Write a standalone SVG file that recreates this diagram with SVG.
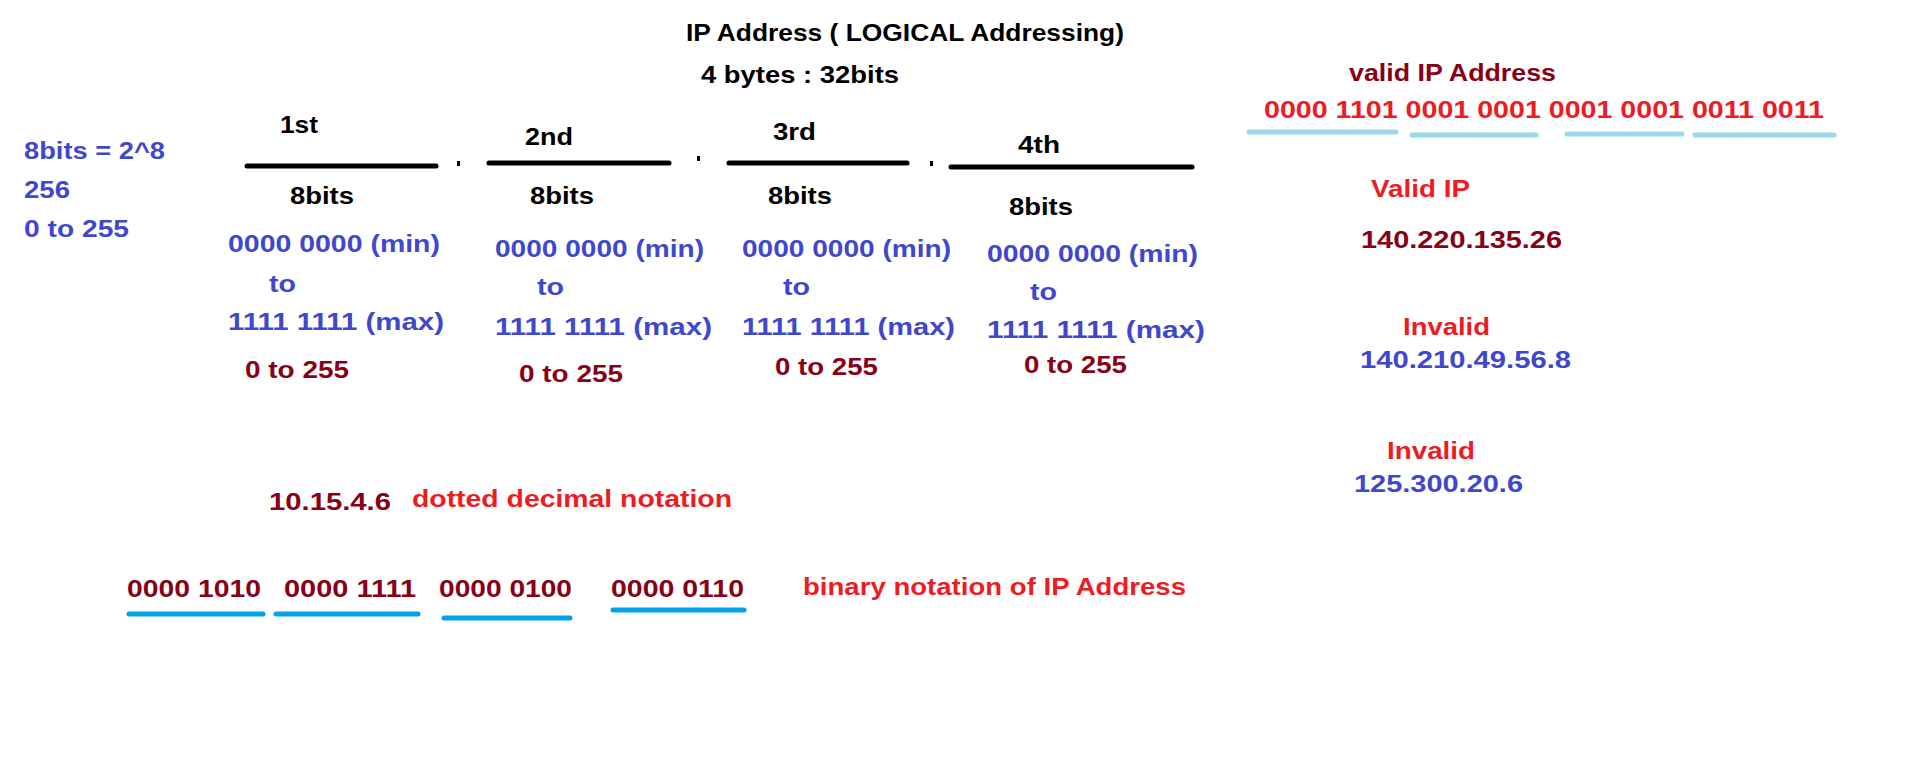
<svg xmlns="http://www.w3.org/2000/svg" width="1914" height="763" viewBox="0 0 1914 763">
<style>
text{font-family:"Liberation Sans",Arial,sans-serif;font-weight:bold;font-size:24px}
.k{fill:#000}.b{fill:#3f48cc}.d{fill:#880015}.r{fill:#ed1c24}
.bar{stroke:#000;stroke-width:5;stroke-linecap:round}
.lb{stroke:#99d9ea;stroke-width:5;stroke-linecap:round}
.ub{stroke:#00a2e8;stroke-width:5;stroke-linecap:round}
</style>
<rect width="1914" height="763" fill="#fff"/>
<g id="title">
<text class="k" x="686" y="41" textLength="438" lengthAdjust="spacingAndGlyphs">IP Address ( LOGICAL Addressing)</text>
<text class="k" x="701" y="83" textLength="198" lengthAdjust="spacingAndGlyphs">4 bytes : 32bits</text>
</g>
<g id="left-note">
<text class="b" x="24" y="159" textLength="141" lengthAdjust="spacingAndGlyphs">8bits = 2^8</text>
<text class="b" x="24" y="198" textLength="46" lengthAdjust="spacingAndGlyphs">256</text>
<text class="b" x="24" y="237" textLength="105" lengthAdjust="spacingAndGlyphs">0 to 255</text>
</g>
<g id="octet-lines">
<line class="bar" x1="247" y1="166" x2="436" y2="166"/>
<line class="bar" x1="489" y1="163" x2="669" y2="163"/>
<line class="bar" x1="729" y1="163" x2="907" y2="163"/>
<line class="bar" x1="951" y1="167" x2="1192" y2="167"/>
<rect x="457" y="161" width="3" height="5" fill="#000"/>
<rect x="697" y="156" width="3" height="5" fill="#000"/>
<rect x="930" y="161" width="3" height="5" fill="#000"/>
</g>
<g id="octet1">
<text class="k" x="280" y="133" textLength="38" lengthAdjust="spacingAndGlyphs">1st</text>
<text class="k" x="290" y="204" textLength="64" lengthAdjust="spacingAndGlyphs">8bits</text>
<text class="b" x="228" y="252" textLength="212" lengthAdjust="spacingAndGlyphs">0000 0000 (min)</text>
<text class="b" x="269" y="292" textLength="27" lengthAdjust="spacingAndGlyphs">to</text>
<text class="b" x="228" y="330" textLength="216" lengthAdjust="spacingAndGlyphs">1111 1111 (max)</text>
<text class="d" x="245" y="378" textLength="104" lengthAdjust="spacingAndGlyphs">0 to 255</text>
</g>
<g id="octet2">
<text class="k" x="525" y="145" textLength="48" lengthAdjust="spacingAndGlyphs">2nd</text>
<text class="k" x="530" y="204" textLength="64" lengthAdjust="spacingAndGlyphs">8bits</text>
<text class="b" x="495" y="257" textLength="209" lengthAdjust="spacingAndGlyphs">0000 0000 (min)</text>
<text class="b" x="537" y="295" textLength="27" lengthAdjust="spacingAndGlyphs">to</text>
<text class="b" x="495" y="335" textLength="217" lengthAdjust="spacingAndGlyphs">1111 1111 (max)</text>
<text class="d" x="519" y="382" textLength="104" lengthAdjust="spacingAndGlyphs">0 to 255</text>
</g>
<g id="octet3">
<text class="k" x="773" y="140" textLength="43" lengthAdjust="spacingAndGlyphs">3rd</text>
<text class="k" x="768" y="204" textLength="64" lengthAdjust="spacingAndGlyphs">8bits</text>
<text class="b" x="742" y="257" textLength="209" lengthAdjust="spacingAndGlyphs">0000 0000 (min)</text>
<text class="b" x="783" y="295" textLength="27" lengthAdjust="spacingAndGlyphs">to</text>
<text class="b" x="742" y="335" textLength="213" lengthAdjust="spacingAndGlyphs">1111 1111 (max)</text>
<text class="d" x="775" y="375" textLength="103" lengthAdjust="spacingAndGlyphs">0 to 255</text>
</g>
<g id="octet4">
<text class="k" x="1018" y="153" textLength="42" lengthAdjust="spacingAndGlyphs">4th</text>
<text class="k" x="1009" y="215" textLength="64" lengthAdjust="spacingAndGlyphs">8bits</text>
<text class="b" x="987" y="262" textLength="211" lengthAdjust="spacingAndGlyphs">0000 0000 (min)</text>
<text class="b" x="1030" y="300" textLength="27" lengthAdjust="spacingAndGlyphs">to</text>
<text class="b" x="987" y="338" textLength="218" lengthAdjust="spacingAndGlyphs">1111 1111 (max)</text>
<text class="d" x="1024" y="373" textLength="103" lengthAdjust="spacingAndGlyphs">0 to 255</text>
</g>
<g id="valid-binary">
<text class="d" x="1349" y="81" textLength="207" lengthAdjust="spacingAndGlyphs">valid IP Address</text>
<text class="r" x="1264" y="118" textLength="560" lengthAdjust="spacingAndGlyphs">0000 1101 0001 0001 0001 0001 0011 0011</text>
<line class="lb" x1="1249" y1="132" x2="1396" y2="132"/>
<line class="lb" x1="1412" y1="135" x2="1536" y2="135"/>
<line class="lb" x1="1567" y1="134" x2="1682" y2="134"/>
<line class="lb" x1="1695" y1="135" x2="1834" y2="135"/>
</g>
<g id="valid-ip">
<text class="r" x="1371" y="197" textLength="99" lengthAdjust="spacingAndGlyphs">Valid IP</text>
<text class="d" x="1361" y="248" textLength="201" lengthAdjust="spacingAndGlyphs">140.220.135.26</text>
</g>
<g id="invalid-1">
<text class="r" x="1403" y="335" textLength="87" lengthAdjust="spacingAndGlyphs">Invalid</text>
<text class="b" x="1360" y="368" textLength="211" lengthAdjust="spacingAndGlyphs">140.210.49.56.8</text>
</g>
<g id="invalid-2">
<text class="r" x="1387" y="459" textLength="88" lengthAdjust="spacingAndGlyphs">Invalid</text>
<text class="b" x="1354" y="492" textLength="169" lengthAdjust="spacingAndGlyphs">125.300.20.6</text>
</g>
<g id="dotted">
<text class="d" x="269" y="510" textLength="122" lengthAdjust="spacingAndGlyphs">10.15.4.6</text>
<text class="r" x="412" y="507" textLength="320" lengthAdjust="spacingAndGlyphs">dotted decimal notation</text>
</g>
<g id="binary">
<text class="d" x="127" y="597" textLength="134" lengthAdjust="spacingAndGlyphs">0000 1010</text>
<text class="d" x="284" y="597" textLength="132" lengthAdjust="spacingAndGlyphs">0000 1111</text>
<text class="d" x="439" y="597" textLength="133" lengthAdjust="spacingAndGlyphs">0000 0100</text>
<text class="d" x="611" y="597" textLength="133" lengthAdjust="spacingAndGlyphs">0000 0110</text>
<text class="r" x="803" y="595" textLength="383" lengthAdjust="spacingAndGlyphs">binary notation of IP Address</text>
<line class="ub" x1="129" y1="614" x2="263" y2="614"/>
<line class="ub" x1="276" y1="614" x2="418" y2="614"/>
<line class="ub" x1="444" y1="618" x2="570" y2="618"/>
<line class="ub" x1="613" y1="610" x2="744" y2="610"/>
</g>
</svg>
